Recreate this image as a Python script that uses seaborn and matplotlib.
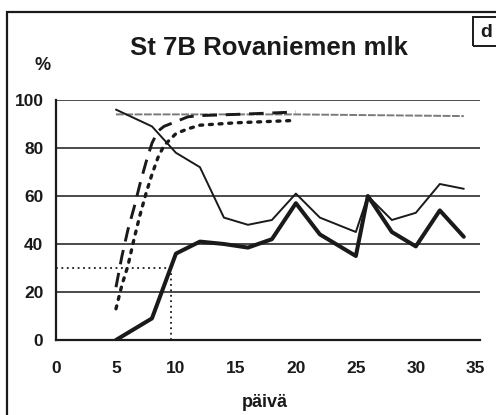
import matplotlib
matplotlib.use("Agg")
import matplotlib.pyplot as plt
from matplotlib.patches import Rectangle
from matplotlib.ticker import MultipleLocator
import seaborn as sns
import pandas as pd

# ---- data ----
days_main = [5, 8, 10, 12, 14, 16, 18, 20, 22, 25, 26, 28, 30, 32, 34]
thin_vals = [96, 89, 78, 72, 51, 48, 50, 61, 51, 45, 60, 50, 53, 65, 63]
thick_vals = [0, 9, 36, 41, 40, 38.5, 42, 57, 44, 35, 60, 45, 39, 54, 43]

days_rise = [5, 5.5, 6, 6.5, 7, 7.5, 8, 8.5, 9, 10, 11, 12, 15, 20]
dashed_vals = [22, 35, 46, 55, 65, 74, 82, 87, 89, 91, 93, 93.5, 94, 95]
dotted_vals = [13, 23, 31, 42, 52, 61, 69, 76, 81, 86, 88, 89.5, 90.5, 91.5]

days_grey = [5, 20, 34]
grey_vals = [94, 94, 93.3]

ref_level = 30
ref_day = 9.6

title = "St 7B Rovaniemen mlk"
xlabel = "päivä"
ylabel = "%"
panel = "d"
xticks = [0, 5, 10, 15, 20, 25, 30, 35]
yticks = [0, 20, 40, 60, 80, 100]

# ---- style ----
sns.set_theme(style="white")
plt.rcParams["font.family"] = ["Liberation Sans", "DejaVu Sans"]
plt.rcParams["font.weight"] = "bold"
ink = "#1a1a1a"

W, H = 496, 415
fig = plt.figure(figsize=(W / 100, H / 100), dpi=100)
ax = fig.add_axes([56 / W, 1 - 340 / H, (480 - 56) / W, (340 - 100) / H])

df_main = pd.DataFrame({"day": days_main, "thin": thin_vals, "thick": thick_vals})
df_rise = pd.DataFrame({"day": days_rise, "dashed": dashed_vals, "dotted": dotted_vals})
df_grey = pd.DataFrame({"day": days_grey, "grey": grey_vals})

for y in yticks[1:]:
    ax.axhline(y, color=ink, lw=1.1, zorder=1)

sns.lineplot(data=df_grey, x="day", y="grey", ax=ax, color="#7a7a7a", lw=1.4,
             linestyle=(0, (4, 0.8)), zorder=2)
sns.lineplot(data=df_rise, x="day", y="dotted", ax=ax, color=ink, lw=2.4,
             linestyle=(0, (0.9, 2.0)), dash_capstyle="round", zorder=3)
sns.lineplot(data=df_rise, x="day", y="dashed", ax=ax, color=ink, lw=2.1,
             linestyle=(0, (5, 3)), zorder=3)
sns.lineplot(data=df_main, x="day", y="thin", ax=ax, color=ink, lw=1.4, zorder=4)
sns.lineplot(data=df_main, x="day", y="thick", ax=ax, color=ink, lw=2.9, zorder=5)

# reference dotted lines
ax.plot([0, ref_day], [ref_level, ref_level], color=ink, lw=1.3, linestyle=(0, (1, 2)), zorder=3)
ax.plot([ref_day, ref_day], [0, ref_level], color=ink, lw=1.3, linestyle=(0, (1, 2)), zorder=3)

ax.set_xlim(0, 35.35)
ax.set_ylim(0, 100)
ax.set_xticks(xticks)
ax.set_yticks(yticks)
ax.xaxis.set_minor_locator(MultipleLocator(1))
ax.yaxis.set_minor_locator(MultipleLocator(10))
ax.set_xlabel("")
ax.set_ylabel("")

for s in ["top", "right"]:
    ax.spines[s].set_visible(False)
for s in ["left", "bottom"]:
    ax.spines[s].set_color(ink)
    ax.spines[s].set_linewidth(1.6)

ax.tick_params(axis="both", which="major", direction="inout", length=6, width=1.3,
               color=ink, labelsize=12.5, labelcolor=ink)
ax.tick_params(axis="both", which="minor", direction="inout", length=3, width=1.0, color=ink)
ax.tick_params(axis="x", which="major", pad=12)
ax.tick_params(axis="y", which="major", pad=6)
for lab in ax.get_xticklabels() + ax.get_yticklabels():
    lab.set_fontweight("bold")

# texts
fig.text(269 / W, 1 - 55 / H, title, ha="center", va="baseline", fontsize=18.5,
         fontweight="bold", color=ink)
fig.text(43 / W, 1 - 70 / H, ylabel, ha="center", va="baseline", fontsize=13,
         fontweight="bold", color=ink)
fig.text(265 / W, 1 - 407 / H, xlabel, ha="center", va="baseline", fontsize=13,
         fontweight="bold", color=ink)
fig.text(486 / W, 1 - 37 / H, panel, ha="center", va="baseline", fontsize=14,
         fontweight="bold", color=ink)

# outer frame and panel box
fig.patches.append(Rectangle((7 / W, -0.1), 1.2, 1 - 12 / H + 0.1, transform=fig.transFigure,
                             fill=False, lw=1.6, edgecolor=ink))
fig.patches.append(Rectangle((473 / W, 1 - 46 / H), 0.2, 29 / H, transform=fig.transFigure,
                             fill=False, lw=1.4, edgecolor=ink))

fig.savefig("out.png", dpi=100)
